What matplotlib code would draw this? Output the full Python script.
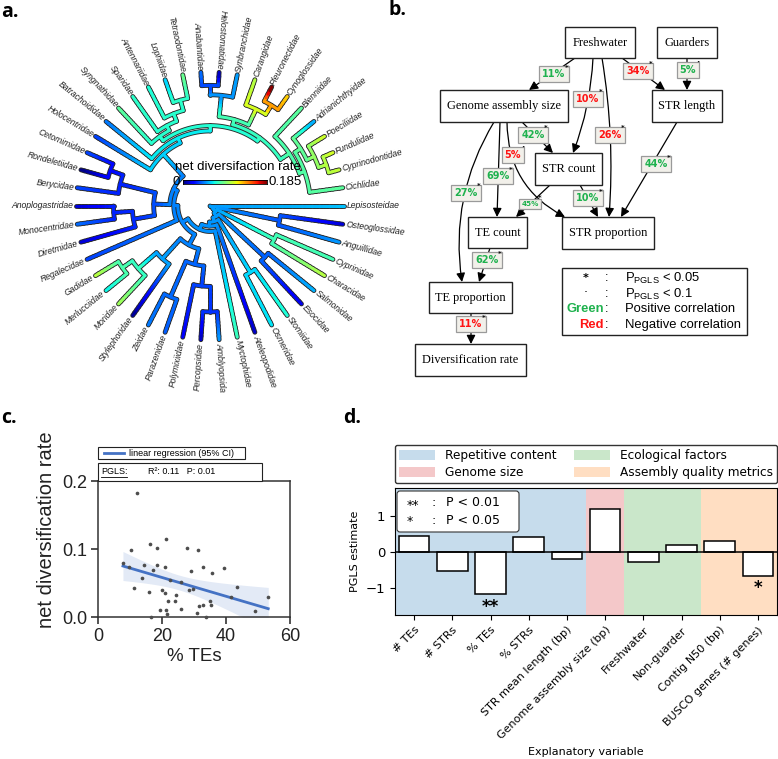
import numpy as np
import matplotlib
matplotlib.use("Agg")
import matplotlib.pyplot as plt
from matplotlib.patches import Rectangle, FancyArrowPatch, FancyBboxPatch, Patch
from matplotlib.collections import LineCollection

plt.rcParams['font.family'] = ['DejaVu Sans']
SANS = 'Liberation Sans'
SERIF = 'Liberation Serif'
W, H = 778, 759

# ======================= DATA =======================
# --- panel a: tip families (clockwise from Lepisosteidae) and net diversification rates
taxa = ['Lepisosteidae', 'Osteoglossidae', 'Anguillidae', 'Cyprinidae', 'Characidae',
        'Salmonidae', 'Esocidae', 'Stomiidae', 'Osmeridae', 'Ateleopodidae',
        'Myctophidae', 'Amblyopsida', 'Percopsidae', 'Polymixiidae', 'Parazenidae',
        'Zeidae', 'Stylephoridae', 'Moridae', 'Merlucciidae', 'Gadidae',
        'Regalecidae', 'Diretmidae', 'Monocentridae', 'Anoplogastridae', 'Berycidae',
        'Rondeletiidae', 'Cetomimidae', 'Holocentridae', 'Batrachoididae', 'Syngnathidae',
        'Sparidae', 'Antennariidae', 'Lophiidae', 'Tetraodontidae', 'Anabantidae',
        'Helostomatidae', 'Synbranchidae', 'Carangidae', 'Pleuronectidae', 'Cynoglossidae',
        'Blenniidae', 'Adrianichthyidae', 'Poeciliidae', 'Fundulidae', 'Cyprinodontidae',
        'Cichlidae']
div_rates = [0.058, 0.015, 0.050, 0.080, 0.105,
             0.055, 0.018, 0.072, 0.065, 0.012,
             0.078, 0.050, 0.012, 0.022, 0.040,
             0.045, 0.005, 0.100, 0.068, 0.105,
             0.035, 0.015, 0.042, 0.015, 0.035,
             0.002, 0.035, 0.035, 0.045, 0.085,
             0.075, 0.072, 0.062, 0.088, 0.042,
             0.012, 0.052, 0.105, 0.183, 0.128,
             0.085, 0.055, 0.110, 0.112, 0.108,
             0.085]
rate_max = 0.185
# topology: (node depth as fraction of tip depth, [children])
tree = (0.0, [
    'Lepisosteidae',
    (0.03, [
        (0.53, ['Osteoglossidae', 'Anguillidae']),
        (0.06, [
            (0.54, ['Cyprinidae', 'Characidae']),
            (0.09, [
                (0.56, ['Salmonidae', 'Esocidae']),
                (0.12, [
                    (0.58, ['Stomiidae', 'Osmeridae']),
                    (0.15, [
                        'Ateleopodidae',
                        (0.19, [
                            'Myctophidae',
                            (0.24, [
                                (0.33, [
                                    (0.45, [
                                        (0.60, [(0.79, ['Amblyopsida', 'Percopsidae']), 'Polymixiidae']),
                                        (0.74, ['Parazenidae', 'Zeidae']),
                                    ]),
                                    (0.53, ['Stylephoridae',
                                            (0.71, ['Moridae', (0.80, ['Merlucciidae', 'Gadidae'])])]),
                                ]),
                                (0.27, [
                                    'Regalecidae',
                                    (0.30, [
                                        (0.42, [
                                            (0.58, ['Diretmidae', (0.72, ['Monocentridae', 'Anoplogastridae'])]),
                                            (0.69, ['Berycidae', (0.79, ['Rondeletiidae', 'Cetomimidae'])]),
                                        ]),
                                        (0.52, [
                                            'Holocentridae',
                                            (0.56, [
                                                'Batrachoididae',
                                                (0.60, [
                                                    (0.64, ['Syngnathidae',
                                                            (0.68, ['Sparidae',
                                                                    (0.74, ['Antennariidae',
                                                                            (0.82, ['Lophiidae', 'Tetraodontidae'])])])]),
                                                    (0.63, [
                                                        (0.67, [
                                                            (0.83, [(0.90, ['Anabantidae', 'Helostomatidae']), 'Synbranchidae']),
                                                            (0.80, ['Carangidae', (0.88, ['Pleuronectidae', 'Cynoglossidae'])]),
                                                        ]),
                                                        (0.71, ['Blenniidae',
                                                                (0.75, [(0.80, ['Adrianichthyidae',
                                                                                (0.86, ['Poeciliidae',
                                                                                        (0.92, ['Fundulidae', 'Cyprinodontidae'])])]),
                                                                        'Cichlidae'])]),
                                                    ]),
                                                ]),
                                            ]),
                                        ]),
                                    ]),
                                ]),
                            ]),
                        ]),
                    ]),
                ]),
            ]),
        ]),
    ]),
])

# --- panel b: path model
b_nodes = ['Freshwater', 'Guarders', 'Genome assembly size', 'STR length', 'STR count',
           'TE count', 'STR proportion', 'TE proportion', 'Diversification rate']
b_edges = [('Freshwater', 'Genome assembly size', 11, +1, '*'),
           ('Freshwater', 'STR count', 10, -1, '*'),
           ('Freshwater', 'STR proportion', 26, -1, '*'),
           ('Freshwater', 'STR length', 34, -1, '*'),
           ('Guarders', 'STR length', 5, +1, '.'),
           ('Genome assembly size', 'STR count', 42, +1, '*'),
           ('Genome assembly size', 'STR proportion', 5, -1, '.'),
           ('Genome assembly size', 'TE count', 69, +1, '*'),
           ('Genome assembly size', 'TE proportion', 27, +1, '*'),
           ('STR count', 'TE count', 45, +1, '*'),
           ('STR count', 'STR proportion', 10, +1, '*'),
           ('STR length', 'STR proportion', 44, +1, '*'),
           ('TE count', 'TE proportion', 62, +1, '*'),
           ('TE proportion', 'Diversification rate', 11, -1, '*')]

# --- panel c: % TEs vs net diversification rate
te_percent = [12.2, 7.8, 10.2, 9.6, 11.4, 13.8, 14.4, 16.4, 17.1, 18.3, 18.5,
              15.9, 16.7, 19.9, 19.5, 20.8, 21.2, 21.0, 21.4, 21.6, 21.9, 22.6,
              24.4, 24.2, 25.8, 26.0, 27.7, 28.3, 29.0, 29.7, 31.4, 31.0, 31.6,
              32.7, 32.9, 33.8, 35.0, 35.2, 35.6, 39.3, 41.5, 43.5, 49.1, 53.2]
net_div = [0.182, 0.080, 0.099, 0.073, 0.042, 0.057, 0.076, 0.108, 0.069, 0.076, 0.101,
           0.037, 0.000, 0.040, 0.011, 0.074, 0.115, 0.035, 0.010, 0.005, 0.024, 0.055,
           0.032, 0.023, 0.012, 0.051, 0.102, 0.040, 0.067, 0.041, 0.098, 0.006, 0.016,
           0.073, 0.017, 0.000, 0.024, 0.017, 0.064, 0.072, 0.029, 0.044, 0.009, 0.029]
pgls_r2, pgls_p = 0.11, 0.01

# --- panel d: PGLS estimates
d_vars = ['# TEs', '# STRs', '% TEs', '% STRs', 'STR mean length (bp)',
          'Genome assembly size (bp)', 'Freshwater', 'Non-guarder', 'Contig N50 (bp)',
          'BUSCO genes (# genes)']
d_est = [0.45, -0.54, -1.18, 0.43, -0.20, 1.21, -0.29, 0.19, 0.31, -0.66]
d_sig = ['', '', '**', '', '', '', '', '', '', '*']
d_groups = ['Repetitive content', 'Genome size', 'Ecological factors', 'Assembly quality metrics']
d_group_sizes = [5, 1, 2, 2]
d_group_colors = ['tab:blue', 'tab:red', 'tab:green', 'tab:orange']

# ======================= FIGURE =======================
fig = plt.figure(figsize=(W / 100, H / 100), dpi=100)
fig.patch.set_facecolor('white')


def rect(x0, y0, x1, y1):
    return [x0 / W, 1 - y1 / H, (x1 - x0) / W, (y1 - y0) / H]


# ---------------- panel a: circular tree ----------------
ax_a = fig.add_axes(rect(0, 0, 390, 410))
R_px, cxp, cyp = 134.0, 210.0, 206.0
ax_a.set_xlim(-cxp / R_px, (390 - cxp) / R_px)
ax_a.set_ylim(-(410 - cyp) / R_px, cyp / R_px)
ax_a.axis('off')

n_tax = len(taxa)
step = 2 * np.pi / n_tax
rate_of = dict(zip(taxa, div_rates))


def down(node):
    """Post-order pass: angle, and pruning (contrast-style) ancestral estimate."""
    if isinstance(node, str):
        return {'r': 1.0, 'v': rate_of[node], 'ext': 0.0,
                'th': -taxa.index(node) * step, 'kids': []}
    r, kids = node
    ch = [down(k) for k in kids]
    inv = [1.0 / ((c['r'] - r) + c['ext']) for c in ch]
    v = sum(c['v'] * w for c, w in zip(ch, inv)) / sum(inv)
    return {'r': r, 'v': v, 'ext': 1.0 / sum(inv),
            'th': 0.5 * (ch[0]['th'] + ch[-1]['th']), 'kids': ch}


def up(nd, v_par, r_par):
    if not nd['kids'] or v_par is None:
        nd['vf'] = nd['v']
    else:
        L = nd['r'] - r_par
        nd['vf'] = (nd['v'] / nd['ext'] + v_par / L) / (1 / nd['ext'] + 1 / L)
    for c in nd['kids']:
        up(c, nd['vf'], nd['r'])


root = down(tree)
up(root, None, 0.0)

segs, vals = [], []


def draw(nd):
    if not nd['kids']:
        return
    r = nd['r']
    a = np.linspace(nd['kids'][0]['th'], nd['kids'][-1]['th'], 80)
    segs.append(np.column_stack([r * np.cos(a), r * np.sin(a)]))
    vals.append(nd['vf'])
    for c in nd['kids']:
        npc = max(3, int((c['r'] - r) * 40))
        rr = np.linspace(r, c['r'], npc + 1)
        vv = np.linspace(nd['vf'], c['vf'], npc)
        th = c['th']
        for k in range(npc):
            segs.append(np.array([[rr[k] * np.cos(th), rr[k] * np.sin(th)],
                                  [rr[k + 1] * np.cos(th), rr[k + 1] * np.sin(th)]]))
            vals.append(vv[k])
        draw(c)


draw(root)
cmap = plt.get_cmap('jet')
norm = plt.Normalize(0, rate_max)
ax_a.add_collection(LineCollection(segs, colors='#2a2a2a', linewidths=3.5,
                                   capstyle='round', joinstyle='round', zorder=1))
ax_a.add_collection(LineCollection(segs, colors=cmap(norm(np.array(vals))), linewidths=2.2,
                                   capstyle='round', joinstyle='round', zorder=2))

for i, name in enumerate(taxa):
    th = -i * step
    d = np.degrees(th) % 360
    x, y = 1.022 * np.cos(th), 1.022 * np.sin(th)
    if 85 < d < 270:
        rot, ha = d - 180, 'right'
    else:
        rot, ha = (d if d <= 85 else d - 360), 'left'
    ax_a.text(x, y, name, rotation=rot, rotation_mode='anchor', ha=ha, va='center',
              fontsize=6.2, style='italic', family=SANS, color='#222222')

cax = fig.add_axes(rect(183, 180, 267, 184))
cax.imshow(np.linspace(0, 1, 256)[None, :], cmap='jet', aspect='auto')
cax.set_xticks([])
cax.set_yticks([])
for s in cax.spines.values():
    s.set_linewidth(0.6)

# ---------------- panel c: scatter + regression ----------------
ax_c = fig.add_axes(rect(98, 481, 290, 617))
xc = np.array(te_percent)
yc = np.array(net_div)
ax_c.scatter(xc, yc, s=7, color='#4d4d4d', linewidths=0, zorder=3, clip_on=False)
slope, intercept = np.polyfit(xc, yc, 1)
xs = np.linspace(xc.min(), xc.max(), 100)
yfit = slope * xs + intercept
resid = yc - (slope * xc + intercept)
s_res = np.sqrt(np.sum(resid ** 2) / (len(xc) - 2))
se = s_res * np.sqrt(1 / len(xc) + (xs - xc.mean()) ** 2 / np.sum((xc - xc.mean()) ** 2))
ax_c.fill_between(xs, yfit - 2.02 * se, yfit + 2.02 * se, color='#4472c4', alpha=0.15, lw=0, zorder=1)
ax_c.plot(xs, yfit, color='#4472c4', lw=2.0, zorder=2)
ax_c.set_xlim(0, 60)
ax_c.set_ylim(0, 0.2)
ax_c.set_xticks([0, 20, 40, 60])
ax_c.set_yticks([0, 0.1, 0.2])
ax_c.set_yticklabels(['0.0', '0.1', '0.2'])
ax_c.tick_params(length=5, width=1.1, labelsize=13, colors='#222222', pad=3)
for lab in ax_c.get_xticklabels() + ax_c.get_yticklabels():
    lab.set_family(SANS)
for s in ax_c.spines.values():
    s.set_linewidth(1.1)
    s.set_color('#333333')
ax_c.set_xlabel('% TEs', fontsize=13.5, family=SANS, color='#222222', labelpad=2)
ax_c.set_ylabel('net diversification rate', fontsize=14.5, family=SANS, color='#222222')
ax_c.yaxis.set_label_coords(-0.22, 0.64)

# ---------------- panel d: bar chart ----------------
ax_d = fig.add_axes(rect(395, 488, 777, 615))
xpos = np.arange(len(d_vars))
bounds = np.concatenate([[0], np.cumsum(d_group_sizes)]) - 0.5
for col, lo, hi in zip(d_group_colors, bounds[:-1], bounds[1:]):
    ax_d.axvspan(lo, hi, color=col, alpha=0.25, lw=0, zorder=0)
ax_d.bar(xpos, d_est, width=0.8, color='white', edgecolor='black', lw=1.1, zorder=2)
ax_d.axhline(0, color='black', lw=1.1, zorder=3)
for i, (v, s) in enumerate(zip(d_est, d_sig)):
    if s:
        ax_d.text(i, v - 0.36, s, ha='center', va='center', fontsize=12, fontweight='bold', zorder=4)
ax_d.set_xlim(-0.5, 9.5)
ax_d.set_ylim(-1.77, 1.8)
ax_d.set_yticks([-1, 0, 1])
ax_d.set_xticks(xpos)
ax_d.set_xticklabels(d_vars, rotation=45, ha='right', rotation_mode='anchor', fontsize=8)
ax_d.tick_params(axis='y', labelsize=9.5)
ax_d.set_ylabel('PGLS estimate', fontsize=8)
ax_d.set_xlabel('Explanatory variable', fontsize=8)
handles = [Patch(facecolor=c, alpha=0.25, edgecolor='none') for c in d_group_colors]
ax_d.legend(handles, d_groups, ncol=2, loc='lower left', bbox_to_anchor=(0, 1.04, 1, 0.3),
            mode='expand', borderaxespad=0, fontsize=8.7, handlelength=3.0, handleheight=0.9,
            edgecolor='#333333', fancybox=True, framealpha=1, borderpad=0.35, labelspacing=0.3)

# ---------------- overlay (panel b, labels, boxes) ----------------
ov = fig.add_axes([0, 0, 1, 1], zorder=10)
ov.set_xlim(0, W)
ov.set_ylim(H, 0)
ov.axis('off')
ov.patch.set_alpha(0)

# panel letters
for lab, (x, y) in zip(['a.', 'b.', 'c.', 'd.'], [(1, 12), (389, 10), (1, 418), (343, 418)]):
    ov.text(x, y, lab, fontsize=14, fontweight='bold', family='Open Sans', ha='left', va='center')

# colorbar text for a
ov.text(238, 167, 'net diversifaction rate', ha='center', va='center', fontsize=9.5, family=SANS)
ov.text(180, 182, '0', ha='right', va='center', fontsize=9.5, family=SANS)
ov.text(269, 182, '0.185', ha='left', va='center', fontsize=9.5, family=SANS)

# panel b boxes
node_box = {'Freshwater': (565, 27, 635, 58), 'Guarders': (657, 27, 717, 58),
            'Genome assembly size': (440, 90, 568, 122), 'STR length': (652, 90, 722, 122),
            'STR count': (535, 153, 602, 185), 'TE count': (468, 217, 527, 248),
            'STR proportion': (562, 217, 654, 249), 'TE proportion': (429, 282, 512, 313),
            'Diversification rate': (415, 344, 526, 376)}
for nm in b_nodes:
    x0, y0, x1, y1 = node_box[nm]
    ov.add_patch(Rectangle((x0, y0), x1 - x0, y1 - y0, fc='white', ec='#222222', lw=1.0, zorder=3))
    ov.text((x0 + x1) / 2, (y0 + y1) / 2, nm, ha='center', va='center', fontsize=8.9,
            family=SERIF, zorder=4)

# edge geometry: start, end, curvature, label position
edge_geom = [((575, 58), (529, 90), 0.0, (554, 74)),
             ((593, 58), (573, 153), -0.08, (588, 99)),
             ((602, 58), (609, 217), -0.06, (610, 135)),
             ((622, 58), (665, 90), 0.0, (638, 71)),
             ((687, 58), (687, 90), 0.0, (688, 70)),
             ((522, 122), (553, 153), 0.0, (533, 135)),
             ((507, 122), (565, 217), 0.3, (513, 155)),
             ((500, 122), (497, 217), 0.0, (498, 176)),
             ((494, 122), (462, 282), 0.18, (466, 193)),
             ((550, 185), (516, 217), 0.0, (530, 204)),
             ((580, 185), (598, 217), 0.0, (588, 198)),
             ((677, 122), (621, 217), 0.0, (656, 164)),
             ((490, 248), (479, 282), 0.0, (487, 260)),
             ((471, 313), (471, 344), 0.0, (471, 324))]
GREEN, RED = '#1fb24e', '#ff1414'
for (src, dst, pct, sign, sig), (p0, p1, rad, lp) in zip(b_edges, edge_geom):
    ov.add_patch(FancyArrowPatch(p0, p1, arrowstyle='-|>', mutation_scale=13,
                                 connectionstyle=f'arc3,rad={rad}', lw=0.9, color='black',
                                 shrinkA=0, shrinkB=0, zorder=2))
    small = pct == 45
    ov.text(lp[0], lp[1], f'{pct}%', ha='center', va='center',
            fontsize=5.2 if small else 7.0, fontweight='bold',
            color=GREEN if sign > 0 else RED, zorder=5,
            bbox=dict(boxstyle='square,pad=0.3', fc='#f2f0ea', ec='#9a9a9a', lw=0.9))
    dx = 10 if small else (10 if pct < 10 else 13)
    ov.text(lp[0] + dx, lp[1] - 6.5, '*' if sig == '*' else '·', ha='center', va='center',
            fontsize=5 if sig == '*' else 6, fontweight='bold', color='#111111', zorder=6)

# panel b legend
ov.add_patch(Rectangle((562, 268), 185, 67, fc='white', ec='#222222', lw=1.0, zorder=3))
rows_y = [278, 294, 309, 325]
ov.text(586, rows_y[0], '*', ha='center', va='center', fontsize=8, fontweight='bold', zorder=4)
ov.text(586, rows_y[1] - 1, '·', ha='center', va='center', fontsize=9, zorder=4)
ov.text(604, rows_y[2], 'Green', ha='right', va='center', fontsize=9.4, fontweight='bold',
        color=GREEN, family=SANS, zorder=4)
ov.text(604, rows_y[3], 'Red', ha='right', va='center', fontsize=9.4, fontweight='bold',
        color=RED, family=SANS, zorder=4)
row_txt = [r'$\mathregular{P_{PGLS}}$ < 0.05', r'$\mathregular{P_{PGLS}}$ < 0.1',
           'Positive correlation', 'Negative correlation']
for y, t in zip(rows_y, row_txt):
    ov.text(607, y, ':', ha='center', va='center', fontsize=9.4, family=SANS, zorder=4)
    ov.text(625, y, t, ha='left', va='center', fontsize=9.4, family=SANS, zorder=4)

# panel c legend boxes
ov.add_patch(Rectangle((98, 447), 147, 12, fc='white', ec='#222222', lw=0.8, zorder=3))
ov.plot([104, 124], [453, 453], color='#4472c4', lw=2, zorder=4)
ov.text(129, 453, 'linear regression (95% CI)', ha='left', va='center', fontsize=6.5,
        family=SANS, zorder=4)
ov.add_patch(Rectangle((98, 463), 164, 18, fc='white', ec='#222222', lw=0.8, zorder=3))
ov.text(101, 472, 'PGLS:', ha='left', va='center', fontsize=6.5, family=SANS, zorder=4)
ov.plot([101, 127], [477, 477], color='black', lw=0.6, zorder=4)
ov.text(148, 472, f'R²: {pgls_r2:.2f}   P: {pgls_p:.2f}', ha='left', va='center',
        fontsize=6.5, family=SANS, zorder=4)

# panel d inner significance legend
ov.add_patch(FancyBboxPatch((397, 491), 122, 41, boxstyle='round,pad=0,rounding_size=3',
                            fc='white', ec='#333333', lw=0.8, zorder=3))
for y, s, t in zip([503, 520], ['**', '*'], ['P < 0.01', 'P < 0.05']):
    ov.text(407, y + 2, s, ha='left', va='center', fontsize=9, zorder=4)
    ov.text(434, y, ':', ha='center', va='center', fontsize=9, zorder=4)
    ov.text(446, y, t, ha='left', va='center', fontsize=9, zorder=4)

fig.savefig('out.png', dpi=100, facecolor='white')
